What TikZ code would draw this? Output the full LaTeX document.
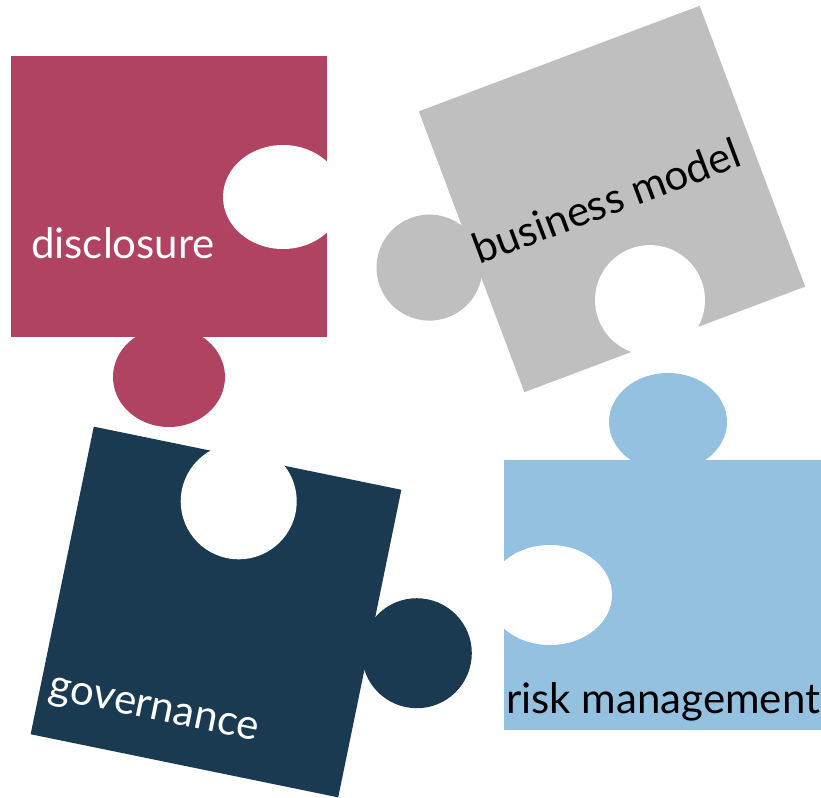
\documentclass[tikz,border=0pt]{standalone}
\usepackage{fontspec}
\setmainfont{Lato}
\definecolor{disclred}{HTML}{B04262}
\definecolor{busgray}{HTML}{BFBFBF}
\definecolor{govnavy}{HTML}{1A3A52}
\definecolor{riskblue}{HTML}{95C1E0}
\begin{document}
\begin{tikzpicture}[x=1pt,y=-1pt,
	label/.style={anchor=base west,inner sep=0pt,font=\fontsize{42}{50}\selectfont}]
	\useasboundingbox (0,0) rectangle (821,797);

	% disclosure
	\fill[disclred] (11,56) rectangle (327,337);
	\fill[disclred] (169,377) ellipse [x radius=56, y radius=50];
	\fill[white] (283,197) ellipse [x radius=60, y radius=52];
	\node[label,text=white] (disclosure) at (31,258) {disclosure};

	% business model
	\begin{scope}[shift={(612,199)},rotate=20.6]
	\fill[busgray] (-150,-150) rectangle (150,150);
	\fill[busgray] (-195,0) circle [radius=53];
	\fill[white] (0,108) circle [radius=55];
	\node[label,transform shape] (business) at (-147,15) {business model};
	\end{scope}

	% governance
	\begin{scope}[shift={(216,612)},rotate=-11.6]
	\fill[govnavy] (-157,-157) rectangle (157,157);
	\fill[govnavy] (205,0) circle [radius=55];
	\fill[white] (0,-113) circle [radius=58];
	\node[label,text=white,transform shape] (governance) at (-148,118) {governance};
	\end{scope}

	% risk management
	\fill[riskblue] (504,460) rectangle (821,730);
	\fill[riskblue] (668,422) ellipse [x radius=59, y radius=49];
	\fill[white] (550,595) ellipse [x radius=62, y radius=50];
	\node[label] (risk) at (506,713) {risk management};
\end{tikzpicture}
\end{document}
